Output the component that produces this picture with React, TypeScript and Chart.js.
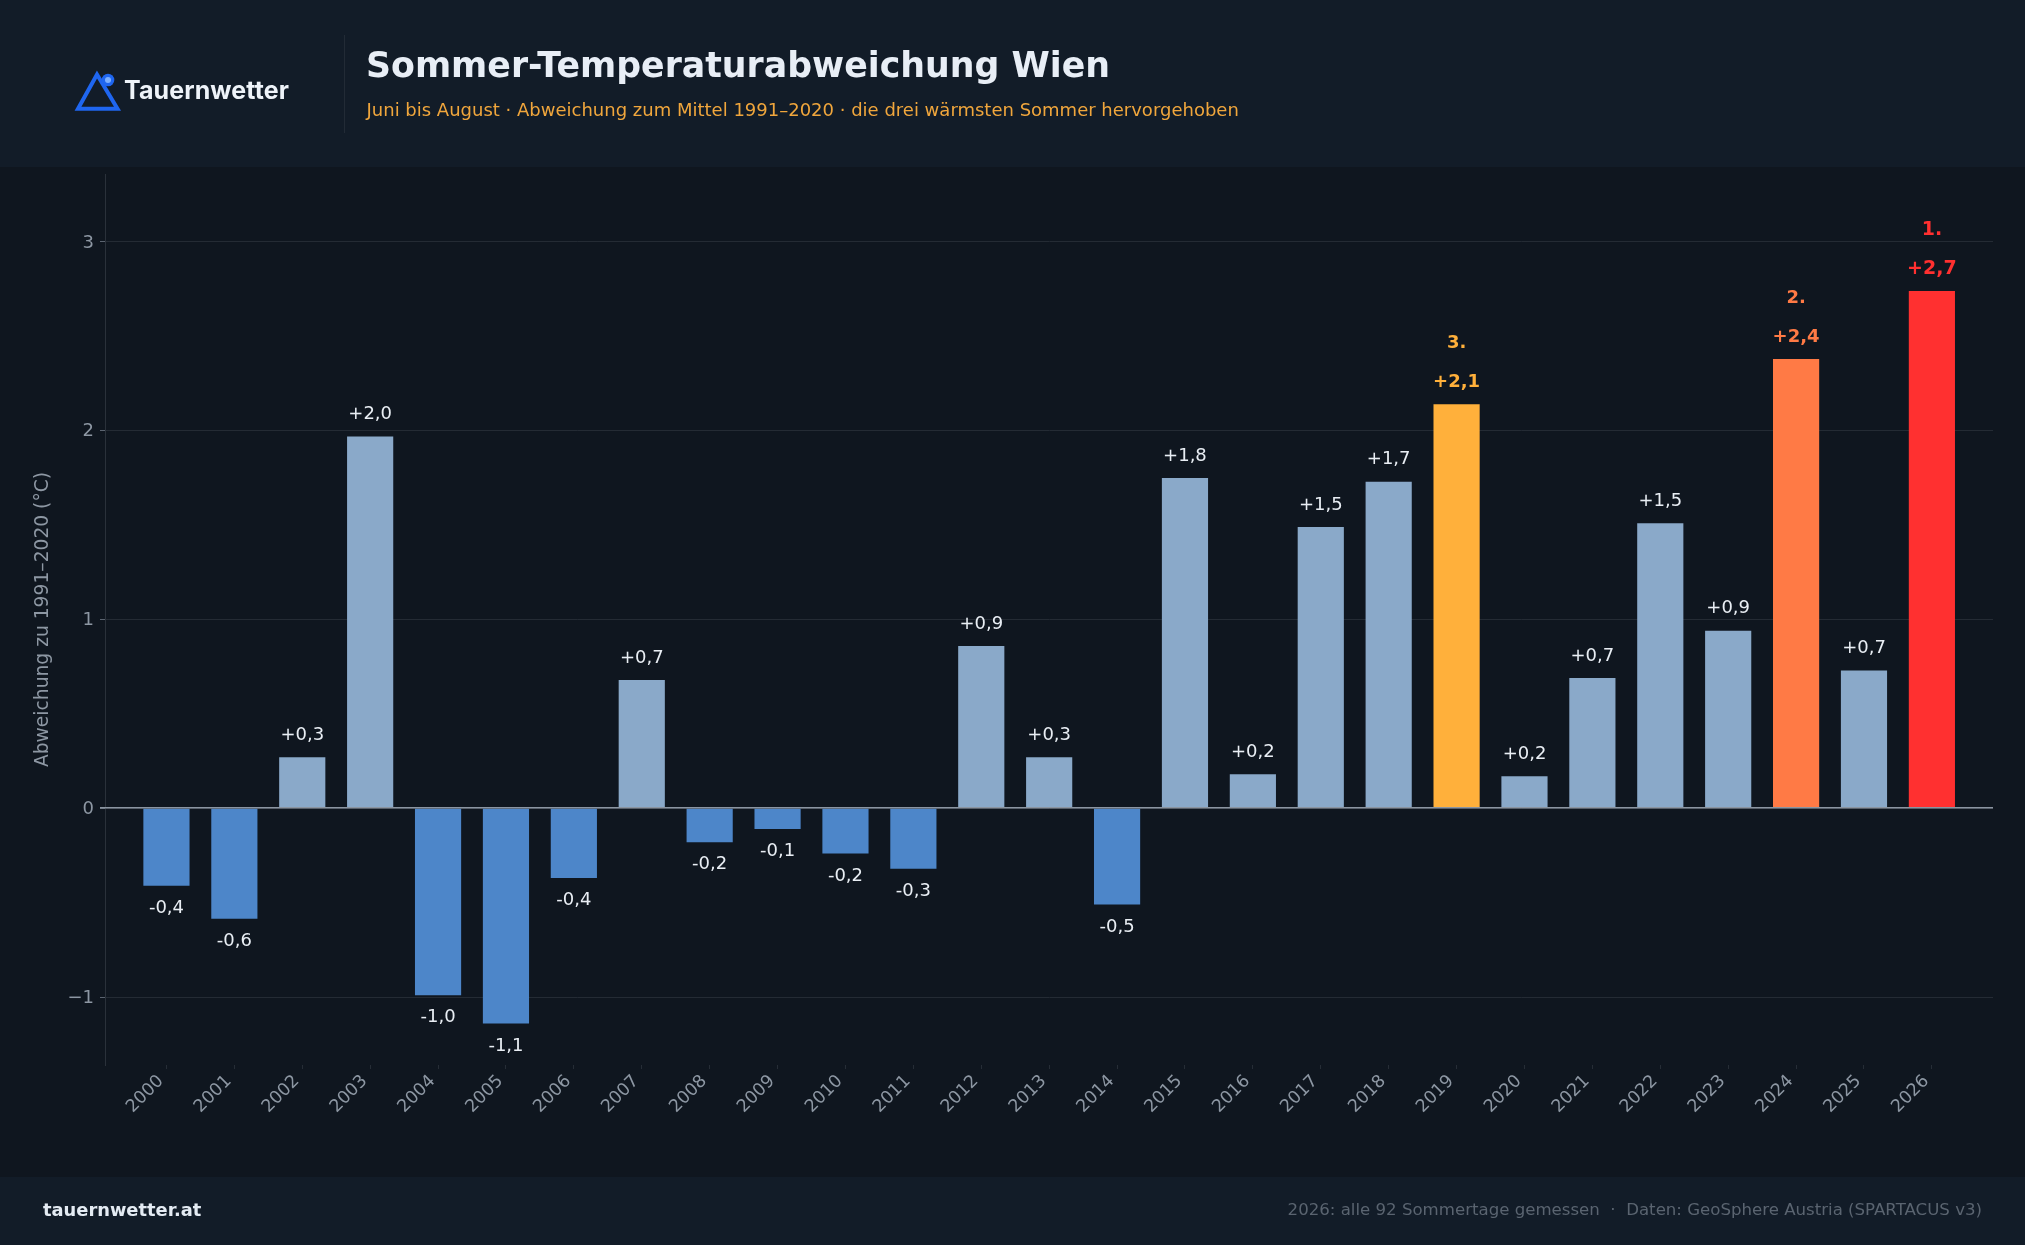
import React, { useEffect, useRef } from "react";
import { Chart, registerables } from "chart.js";

Chart.register(...registerables);

const years = [2000,2001,2002,2003,2004,2005,2006,2007,2008,2009,2010,2011,2012,2013,2014,2015,2016,2017,2018,2019,2020,2021,2022,2023,2024,2025,2026];
const anomalies = [-0.41,-0.585,0.27,1.97,-0.99,-1.14,-0.37,0.68,-0.18,-0.11,-0.24,-0.32,0.86,0.27,-0.51,1.75,0.18,1.49,1.73,2.14,0.17,0.69,1.51,0.94,2.38,0.73,2.74];
const yTicks = [-1,0,1,2,3];
const rankYears = [2026,2024,2019];
const rankLabels = ["1.","2.","3."];
const rankColors = ["#ff3030","#ff7a45","#ffb03b"];
const rankFontSizes = [19,18,18];
const warmColor = "#8aa9c9";
const coldColor = "#4d86c9";
const FONT = "'DejaVu Sans'";

const fmt = (v: number) => (v >= 0 ? "+" : "-") + Math.abs(v).toFixed(1).replace(".", ",");

const labelPlugin = {
  id: "valueLabels",
  afterDatasetsDraw(chart: any) {
    const { ctx, scales: { x, y }, chartArea } = chart;
    ctx.save();
    ctx.strokeStyle = "#8b95a1";
    ctx.lineWidth = 1.5;
    const zy = Math.round(y.getPixelForValue(0)) - 0.25;
    ctx.beginPath();
    ctx.moveTo(chartArea.left - 5, zy);
    ctx.lineTo(chartArea.right, zy);
    ctx.stroke();
    ctx.textAlign = "center";
    ctx.textBaseline = "middle";
    years.forEach((yr, i) => {
      const v = anomalies[i];
      const px = x.getPixelForValue(yr);
      const py = y.getPixelForValue(v);
      const r = rankYears.indexOf(yr);
      if (r >= 0) {
        ctx.fillStyle = rankColors[r];
        ctx.font = `bold ${rankFontSizes[r]}px ${FONT}`;
        ctx.fillText(fmt(v), px, py - 22);
        ctx.fillText(rankLabels[r], px, py - 61);
      } else {
        ctx.fillStyle = "#e9eef4";
        ctx.font = `18px ${FONT}`;
        ctx.fillText(fmt(v), px, v >= 0 ? py - 22 : py + 22.5);
      }
    });
    ctx.restore();
  },
};

export default function App() {
  const ref = useRef<HTMLCanvasElement>(null);
  useEffect(() => {
    document.body.style.margin = "0";
    document.body.style.background = "#0f161f";
    const chart = new Chart(ref.current!, {
      type: "bar",
      data: {
        datasets: [{
          data: years.map((yr, i) => ({ x: yr, y: anomalies[i] })),
          backgroundColor: years.map((yr, i) => {
            const r = rankYears.indexOf(yr);
            return r >= 0 ? rankColors[r] : anomalies[i] >= 0 ? warmColor : coldColor;
          }),
          borderWidth: 0,
          barPercentage: 0.68,
          categoryPercentage: 1,
        }],
      },
      options: {
        responsive: false,
        animation: false,
        devicePixelRatio: 1,
        layout: { padding: { left: 0, top: 174, right: 32, bottom: 100 } },
        plugins: { legend: { display: false }, tooltip: { enabled: false }, title: { display: false } },
        scales: {
          x: {
            type: "linear",
            offset: false,
            min: 1999.095,
            max: 2026.9,
            afterBuildTicks: (axis: any) => { axis.ticks = years.map((value) => ({ value })); },
            afterFit: (axis: any) => { axis.height = 80; },
            grid: { offset: false, drawOnChartArea: false, drawTicks: true, tickLength: 4, tickColor: "#262d36" },
            border: { display: false },
            ticks: {
              callback: (v: any) => String(v),
              autoSkip: false,
              minRotation: 45,
              maxRotation: 45,
              padding: 2,
              labelOffset: -5.5,
              color: "#8d97a3",
              font: { family: FONT, size: 17.5 },
            },
          },
          y: {
            min: -1.36,
            max: 3.36,
            afterBuildTicks: (axis: any) => { axis.ticks = yTicks.map((value) => ({ value })); },
            afterFit: (axis: any) => { axis.width = 105; },
            grid: { color: "#242b34", lineWidth: 1, tickLength: 5, tickColor: "#5b6470" },
            border: { display: true, color: "#2a313a", width: 1 },
            title: {
              display: true,
              text: "Abweichung zu 1991–2020 (°C)",
              color: "#8d97a3",
              font: { family: FONT, size: 18.7 },
              padding: { top: 32, bottom: 0 },
            },
            ticks: {
              callback: (v: any) => String(v).replace("-", "−"),
              color: "#8d97a3",
              padding: 6,
              labelOffset: 1,
              font: { family: FONT, size: 18 },
            },
          },
        },
      },
      plugins: [labelPlugin],
    } as any);
    return () => chart.destroy();
  }, []);

  const band = "#121c28";
  return (
    <div style={{ position: "relative", width: 2025, height: 1245, overflow: "hidden", background: "#0f161f", fontFamily: FONT }}>
      <div style={{ position: "absolute", left: 0, top: 0, width: 2025, height: 167, background: band }} />
      <div style={{ position: "absolute", left: 0, top: 1177, width: 2025, height: 68, background: band }} />
      <canvas ref={ref} width={2025} height={1245} style={{ position: "absolute", left: 0, top: 0, display: "block" }} />
      <svg width={140} height={80} style={{ position: "absolute", left: 60, top: 55 }}>
        <path d="M37 19.5 L18 53.7 L57.5 53.7 Z" fill="none" stroke="#1f66f0" strokeWidth={4} strokeLinejoin="miter" />
        <circle cx={48} cy={25} r={6.3} fill="#1f66f0" />
        <circle cx={48} cy={25} r={3} fill="#7db0ff" />
      </svg>
      <div style={{ position: "absolute", left: 124, top: 74, fontFamily: "Inter", fontWeight: 700, fontSize: 25, lineHeight: "32px", color: "#eef3f9", letterSpacing: 0.1, whiteSpace: "nowrap" }}>Tauernwetter</div>
      <div style={{ position: "absolute", left: 344, top: 35, width: 1, height: 98, background: "#222b36" }} />
      <div style={{ position: "absolute", left: 366, top: 43, fontWeight: 700, fontSize: 34.75, lineHeight: "44px", color: "#e8eef6", whiteSpace: "nowrap" }}>Sommer-Temperaturabweichung Wien</div>
      <div style={{ position: "absolute", left: 366.5, top: 98, fontSize: 18, lineHeight: "24px", color: "#f0a63c", whiteSpace: "nowrap" }}>Juni bis August · Abweichung zum Mittel 1991–2020 · die drei wärmsten Sommer hervorgehoben</div>
      <div style={{ position: "absolute", left: 43, top: 1198, fontWeight: 700, fontSize: 17.85, lineHeight: "24px", color: "#e4ebf3", whiteSpace: "nowrap" }}>tauernwetter.at</div>
      <div style={{ position: "absolute", right: 43, top: 1198, fontSize: 16.6, lineHeight: "24px", color: "#5a6470", whiteSpace: "pre" }}>2026: alle 92 Sommertage gemessen  ·  Daten: GeoSphere Austria (SPARTACUS v3)</div>
    </div>
  );
}
